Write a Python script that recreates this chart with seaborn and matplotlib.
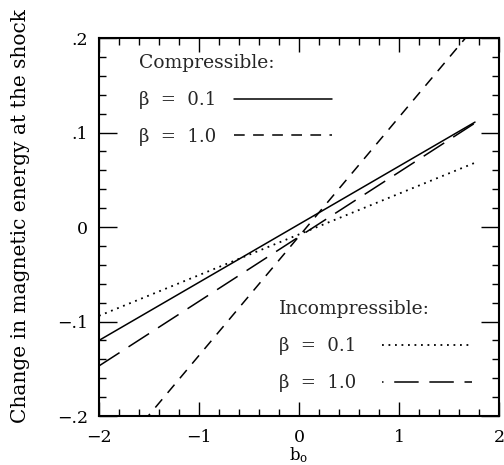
import matplotlib
matplotlib.use("Agg")
import matplotlib.pyplot as plt
from matplotlib.lines import Line2D
from matplotlib.ticker import MultipleLocator
import seaborn as sns
import numpy as np

# ---- data ----
b0 = [-2.0, 1.76]
comp_beta01 = [-0.120, 0.111]      # compressible, beta = 0.1 (solid)
comp_beta10 = [-0.262, 0.212]      # compressible, beta = 1.0 (short dash)
incomp_beta01 = [-0.094, 0.068]    # incompressible, beta = 0.1 (dotted)
incomp_beta10 = [-0.147, 0.110]    # incompressible, beta = 1.0 (long dash)

xticks = [-2, -1, 0, 1, 2]
xticklabels = ["\u22122", "\u22121", "0", "1", "2"]
yticks = [-0.2, -0.1, 0.0, 0.1, 0.2]
yticklabels = ["\u2212.2", "\u2212.1", "0", ".1", ".2"]
legend_labels = ["\u03b2  =  0.1", "\u03b2  =  1.0"]

sns.set_theme(style="ticks")
plt.rcParams["font.family"] = ["DejaVu Serif"]
plt.rcParams["mathtext.fontset"] = "dejavuserif"

fig = plt.figure(figsize=(5.04, 4.65), dpi=100)
ax = fig.add_axes([99 / 504, 49 / 465, 400 / 504, 378 / 465])

solid = "-"
short_dash = (0, (7, 5.5))
dotted = (0, (1, 2.6))
long_dash = (0, (16, 7))

sns.lineplot(x=b0, y=comp_beta01, ax=ax, color="black", linewidth=1.1, linestyle=solid)
sns.lineplot(x=b0, y=comp_beta10, ax=ax, color="black", linewidth=1.1, linestyle=short_dash)
sns.lineplot(x=b0, y=incomp_beta01, ax=ax, color="black", linewidth=1.3, linestyle=dotted)
sns.lineplot(x=b0, y=incomp_beta10, ax=ax, color="black", linewidth=1.1, linestyle=long_dash)

ax.set_xlim(-2, 2)
ax.set_ylim(-0.2, 0.2)
ax.set_xticks(xticks)
ax.set_xticklabels(xticklabels)
ax.set_yticks(yticks)
ax.set_yticklabels(yticklabels)
ax.xaxis.set_minor_locator(MultipleLocator(0.2))
ax.yaxis.set_minor_locator(MultipleLocator(0.02))

ax.tick_params(axis="both", which="both", direction="in", top=True, right=True,
               color="black", width=1.0, labelsize=12.5, labelcolor="black")
ax.tick_params(axis="x", which="major", length=10, pad=9)
ax.tick_params(axis="y", which="major", length=13, pad=8)
ax.tick_params(axis="both", which="minor", length=5)
for s in ax.spines.values():
    s.set_visible(True)
    s.set_linewidth(1.5)
    s.set_color("black")

ax.set_xlabel("b$_\\mathrm{o}$", fontsize=12, color="black")
ax.xaxis.set_label_coords(0.5, -0.078)
ax.set_ylabel("Change in magnetic energy at the shock", fontsize=14.5, color="black")
ax.yaxis.set_label_coords(-0.172, 0.53)

# legends
h1 = [Line2D([], [], color="black", lw=1.1, linestyle=solid),
      Line2D([], [], color="black", lw=1.1, linestyle=short_dash)]
leg1 = ax.legend(h1, legend_labels, title="Compressible:",
                 loc="upper left", bbox_to_anchor=(0.1, 0.958),
                 frameon=False, markerfirst=False, fontsize=13, title_fontsize=13.5,
                 handlelength=5.4, handletextpad=1.0, labelspacing=1.05,
                 borderpad=0, borderaxespad=0, alignment="left")
ax.add_artist(leg1)

h2 = [Line2D([], [], color="black", lw=1.3, linestyle=dotted),
      Line2D([], [], color="black", lw=1.1, linestyle=(15, (16, 7)))]
leg2 = ax.legend(h2, legend_labels, title="Incompressible:",
                 loc="upper left", bbox_to_anchor=(0.45, 0.306),
                 frameon=False, markerfirst=False, fontsize=13, title_fontsize=13.5,
                 handlelength=5.0, handletextpad=1.4, labelspacing=1.05,
                 borderpad=0, borderaxespad=0, alignment="left")

fig.savefig("out.png", dpi=100)
